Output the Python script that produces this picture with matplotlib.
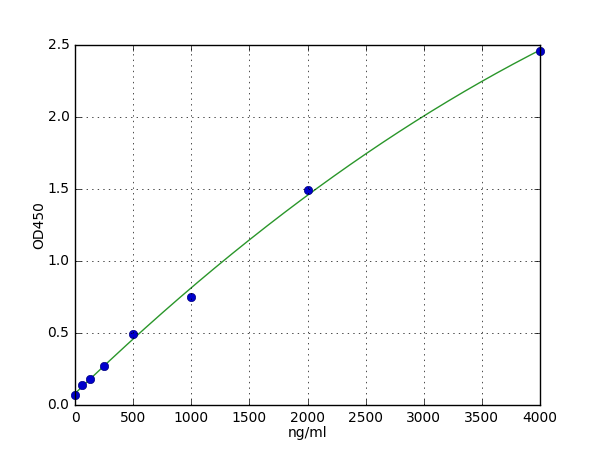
import numpy as np
import matplotlib
matplotlib.use("Agg")
import matplotlib.pyplot as plt

plt.style.use("classic")

conc = [0, 62.5, 125, 250, 500, 1000, 2000, 4000]
od450 = [0.07, 0.14, 0.18, 0.27, 0.49, 0.75, 1.49, 2.46]

# smooth standard curve fitted from the points
coef = np.polyfit(conc, od450, 2)
xs = np.linspace(0, 4000, 400)

fig, ax = plt.subplots(figsize=(6, 4.5), dpi=100)
ax.plot(xs, np.polyval(coef, xs), color="#2a962a", lw=1)
ax.plot(conc, od450, "o", color="#0000cc", markeredgecolor="#000080", markersize=6, clip_on=False)

ax.set_xlim(0, 4000)
ax.set_ylim(0, 2.5)
ax.set_xticks(np.arange(0, 4001, 500))
ax.set_yticks(np.arange(0, 2.51, 0.5))
ax.grid(True)
ax.set_xlabel("ng/ml", fontsize=10, labelpad=1)
ax.set_ylabel("OD450", fontsize=10, labelpad=1)
ax.tick_params(labelsize=10)

fig.savefig("out.png", dpi=100)
